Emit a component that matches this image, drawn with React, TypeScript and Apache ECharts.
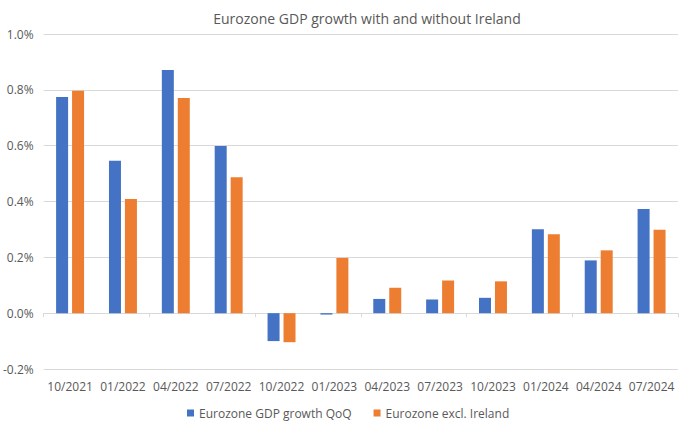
import React, { useEffect, useRef } from "react";
import * as echarts from "echarts";

const quarters = [
  "10/2021", "01/2022", "04/2022", "07/2022", "10/2022", "01/2023",
  "04/2023", "07/2023", "10/2023", "01/2024", "04/2024", "07/2024",
];
const eurozone = [0.774, 0.546, 0.871, 0.599, -0.1, -0.005, 0.051, 0.049, 0.055, 0.301, 0.189, 0.373];
const exIreland = [0.797, 0.409, 0.771, 0.487, -0.104, 0.198, 0.091, 0.117, 0.114, 0.283, 0.225, 0.299];

const textColor = "#595959";
const lineColor = "#d9d9d9";
const font = "'Open Sans', 'Noto Sans', sans-serif";

const App = () => {
  const chartRef = useRef(null);

  useEffect(() => {
    document.body.style.margin = "0";
    const chart = echarts.init(chartRef.current, null, { renderer: "svg" });

    chart.setOption({
      animation: false,
      textStyle: { fontFamily: font },
      title: {
        text: "Eurozone GDP growth with and without Ireland",
        left: 362,
        top: 6,
        textAlign: "center",
        textStyle: { fontSize: 14, fontWeight: "normal", color: textColor, fontFamily: font },
      },
      legend: {
        data: ["Eurozone GDP growth QoQ", "Eurozone excl. Ireland"],
        bottom: 0,
        left: 182,
        itemWidth: 7,
        itemHeight: 7,
        itemGap: 22,
        icon: "rect",
        textStyle: { fontSize: 12, color: textColor, fontFamily: font },
      },
      grid: { left: 42, right: 2, top: 34, bottom: 55 },
      xAxis: [
        {
          type: "category",
          data: quarters,
          axisLine: { onZero: true, lineStyle: { color: lineColor } },
          axisTick: { show: true, length: 4, lineStyle: { color: lineColor } },
          axisLabel: { show: false },
        },
        {
          type: "category",
          data: quarters,
          position: "bottom",
          axisLine: { show: false, onZero: false },
          axisTick: { show: false },
          axisLabel: { color: textColor, fontSize: 12, margin: 11, interval: 0, fontFamily: font },
        },
      ],
      yAxis: {
        type: "value",
        min: -0.2,
        max: 1.0,
        interval: 0.2,
        axisLine: { show: false },
        axisTick: { show: false },
        axisLabel: {
          color: textColor,
          fontSize: 12,
          margin: 10,
          fontFamily: font,
          formatter: (v: number) => v.toFixed(1) + "%",
        },
        splitLine: { lineStyle: { color: lineColor } },
      },
      series: [
        {
          name: "Eurozone GDP growth QoQ",
          type: "bar",
          xAxisIndex: 0,
          barWidth: 12,
          barGap: "33%",
          data: eurozone,
          itemStyle: { color: "#4472C4" },
        },
        {
          name: "Eurozone excl. Ireland",
          type: "bar",
          xAxisIndex: 0,
          barWidth: 12,
          barGap: "33%",
          data: exIreland,
          itemStyle: { color: "#ED7D31" },
        },
      ],
    });

    return () => {
      chart.dispose();
    };
  }, []);

  return <div ref={chartRef} style={{ width: "680px", height: "424px" }} />;
};

export default App;
